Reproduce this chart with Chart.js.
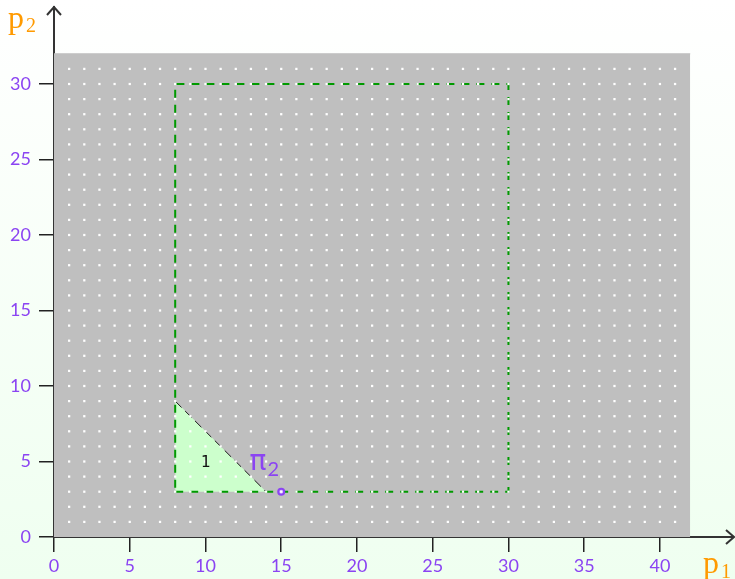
<!DOCTYPE html>
<html>
<head>
<meta charset="utf-8">
<script src="https://cdn.jsdelivr.net/npm/chart.js@4.4.0/dist/chart.umd.min.js"></script>
<style>
  html, body { margin: 0; padding: 0; }
  body { width: 735px; height: 579px; background: linear-gradient(#ffffff, #effff0); overflow: hidden; }
  #wrap { width: 735px; height: 579px; }
</style>
</head>
<body>
<div id="wrap"><canvas id="chartcanvas" width="735" height="579"></canvas></div>
<script>
// tick labels
var xTicks = [0, 5, 10, 15, 20, 25, 30, 35, 40];
var yTicks = [0, 5, 10, 15, 20, 25, 30];

// gray feasible box (top edge)
var boxX = [0, 42];
var boxY = [32, 32];

// dotted lattice
var dotCols = [1, 2, 3, 4, 5, 6, 7, 8, 9, 10, 11, 12, 13, 14, 15, 16, 17, 18, 19, 20, 21,
               22, 23, 24, 25, 26, 27, 28, 29, 30, 31, 32, 33, 34, 35, 36, 37, 38, 39, 40, 41];
var dotRows = [1, 2, 3, 4, 5, 6, 7, 8, 9, 10, 11, 12, 13, 14, 15, 16, 17, 18, 19, 20, 21,
               22, 23, 24, 25, 26, 27, 28, 29, 30, 31];

// green dashed rectangle
var rectX = [8, 30, 30, 8, 8];
var rectY = [3, 3, 30, 30, 3];

// triangle region 1 (hypotenuse, filled down to y = 3)
var triX = [8, 14];
var triY = [9, 3];
var triBase = 3;

// point pi_2
var piX = [15];
var piY = [3];

var purple = "#8b44f2";
var orange = "#ff9a00";
var axisColor = "#333333";

function pts(xs, ys) {
    return xs.map(function(x, i) { return { x: x, y: ys[i] }; });
}

var dots = [];
dotCols.forEach(function(c) {
    dotRows.forEach(function(r) { dots.push({ x: c, y: r }); });
});

var overlay = {
    id: "overlay",
    afterDraw: function(chart) {
        var c = chart.ctx;
        var xs = chart.scales.x, ys = chart.scales.y;
        var a = chart.chartArea;
        var tipX = 734, tipY = 7;
        c.save();
        // axis extensions + arrow heads
        c.strokeStyle = axisColor;
        c.lineWidth = 2;
        c.beginPath();
        c.moveTo(a.left, a.top);
        c.lineTo(a.left, tipY);
        c.moveTo(a.right, a.bottom);
        c.lineTo(tipX, a.bottom);
        c.stroke();
        c.beginPath();
        c.moveTo(a.left - 7, tipY + 8);
        c.lineTo(a.left, tipY);
        c.lineTo(a.left + 7, tipY + 8);
        c.moveTo(tipX - 8, a.bottom - 7);
        c.lineTo(tipX, a.bottom);
        c.lineTo(tipX - 8, a.bottom + 7);
        c.stroke();

        // axis names
        c.fillStyle = orange;
        c.textBaseline = "alphabetic";
        c.textAlign = "left";
        c.font = "32px 'Liberation Serif'";
        c.fillText("p", 8, 28);
        c.fillText("p", 703, 573);
        c.font = "20px 'Liberation Serif'";
        c.fillText("2", 26, 32);
        c.fillText("1", 721, 578);

        // region label
        c.fillStyle = "#111";
        c.font = "16px 'DejaVu Sans Mono'";
        c.textAlign = "center";
        c.textBaseline = "middle";
        c.fillText("1", xs.getPixelForValue(10), ys.getPixelForValue(4.9));

        // pi_2 label
        c.fillStyle = purple;
        c.textAlign = "left";
        c.textBaseline = "alphabetic";
        var px = xs.getPixelForValue(12.9), py = ys.getPixelForValue(4.45);
        c.font = "28px 'DejaVu Sans'";
        c.fillText("\u03C0", px, py);
        c.font = "20px 'Lato'";
        c.fillText("2", px + 18, py + 6);
        c.restore();
    }
};

var data = {
    datasets: [
        {
            label: "dots",
            data: dots,
            pointStyle: "rect",
            pointRadius: 1.6,
            pointBackgroundColor: "#ffffff",
            pointBorderWidth: 0,
            showLine: false,
            order: 0
        },
        {
            label: "pi2",
            data: pts(piX, piY),
            pointRadius: 3,
            pointBackgroundColor: "#c9a6ff",
            pointBorderColor: purple,
            pointBorderWidth: 2,
            showLine: false,
            order: 1
        },
        {
            label: "rect",
            data: pts(rectX, rectY),
            showLine: true,
            borderColor: "#009a00",
            borderWidth: 2,
            borderDash: [8, 7],
            pointRadius: 0,
            fill: false,
            lineTension: 0,
            order: 2
        },
        {
            label: "triangle",
            data: pts(triX, triY),
            showLine: true,
            borderColor: "#1a1a1a",
            borderWidth: 1,
            borderDash: [9, 5],
            backgroundColor: "#ccffcc",
            fill: { value: triBase },
            pointRadius: 0,
            lineTension: 0,
            order: 3
        },
        {
            label: "box",
            data: pts(boxX, boxY),
            showLine: true,
            borderColor: "#bfbfbf",
            borderWidth: 1,
            backgroundColor: "#bfbfbf",
            fill: "origin",
            pointRadius: 0,
            lineTension: 0,
            order: 4
        }
    ]
};

var options = {
    responsive: false,
    animation: false,
    layout: { padding: { top: 7, right: 0, left: 0, bottom: 0 } },
    plugins: {
        legend: { display: false },
        tooltip: { enabled: false }
    },
    scales: {
        x: {
            type: "linear",
            min: 0,
            max: 44.56,
            afterBuildTicks: function(axis) {
                axis.ticks = xTicks.map(function(v) { return { value: v }; });
            },
            afterFit: function(axis) {
                axis.height = 42;
                axis.paddingLeft = 0;
                axis.paddingRight = 0;
            },
            grid: { drawOnChartArea: false, drawTicks: true, tickLength: 15, color: "#222", lineWidth: 1.5 },
            border: { display: true, color: axisColor, width: 2 },
            ticks: { color: purple, font: { family: "Lato", size: 18 }, padding: 3, maxRotation: 0 }
        },
        y: {
            type: "linear",
            min: 0,
            max: 35.1,
            afterBuildTicks: function(axis) {
                axis.ticks = yTicks.map(function(v) { return { value: v }; });
            },
            afterFit: function(axis) {
                axis.width = 54;
                axis.paddingTop = 0;
                axis.paddingBottom = 0;
            },
            grid: { drawOnChartArea: false, drawTicks: true, tickLength: 15, color: "#222", lineWidth: 1.5 },
            border: { display: true, color: axisColor, width: 2 },
            ticks: { color: purple, font: { family: "Lato", size: 18 }, padding: 8 }
        }
    }
};

var chart = new Chart(document.getElementById("chartcanvas"), {
    type: "scatter",
    data: data,
    options: options,
    plugins: [overlay]
});
</script>
</body>
</html>
